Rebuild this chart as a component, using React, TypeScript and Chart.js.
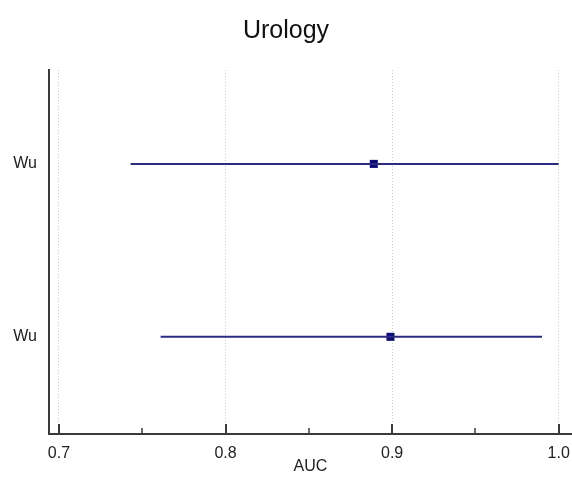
import React, { useEffect, useRef } from "react";
import { Chart, registerables } from "chart.js";

Chart.register(...registerables);

const studies = ["Wu", "Wu"];
const rows = [1, 2];
const auc = [0.889, 0.899];
const ciLow = [0.743, 0.761];
const ciHigh = [1.0, 0.99];
const xTicks = [0.7, 0.8, 0.9, 1.0];
const xMinorTicks = [0.75, 0.85, 0.95];

const axisColor = "#3a3a3a";

const innerTicks = {
  id: "innerTicks",
  afterDraw(chart: any) {
    const ctx = chart.ctx;
    const xs = chart.scales.x;
    const bottom = chart.chartArea.bottom;
    ctx.save();
    ctx.strokeStyle = axisColor;
    ctx.lineWidth = 2;
    ctx.beginPath();
    xTicks.forEach((v) => {
      const px = Math.round(xs.getPixelForValue(v));
      ctx.moveTo(px, bottom);
      ctx.lineTo(px, bottom - 10);
    });
    ctx.stroke();
    ctx.lineWidth = 1.5;
    ctx.beginPath();
    xMinorTicks.forEach((v) => {
      const px = Math.round(xs.getPixelForValue(v));
      ctx.moveTo(px, bottom);
      ctx.lineTo(px, bottom - 6);
    });
    ctx.stroke();
    ctx.restore();
  },
};

export default function App() {
  const ref = useRef<HTMLCanvasElement>(null);
  useEffect(() => {
    document.body.style.margin = "0";
    const datasets: any[] = rows.map((r, i) => ({
      type: "line",
      data: [
        { x: ciLow[i], y: r },
        { x: ciHigh[i], y: r },
      ],
      borderColor: "#2b2b82",
      borderWidth: 2,
      pointRadius: 0,
      showLine: true,
      fill: false,
    }));
    datasets.push({
      type: "scatter",
      data: rows.map((r, i) => ({ x: auc[i], y: r })),
      pointStyle: "rect",
      pointRadius: 5.7,
      backgroundColor: "#0b0b7a",
      borderColor: "#0b0b7a",
      borderWidth: 0,
    });
    const chart = new Chart(ref.current!, {
      type: "scatter",
      data: { datasets },
      plugins: [innerTicks],
      options: {
        animation: false,
        responsive: false,
        layout: { autoPadding: false, padding: { left: 0, right: 0, top: 0, bottom: 0 } },
        plugins: {
          legend: { display: false },
          tooltip: { enabled: false },
          title: {
            display: true,
            text: "Urology",
            color: "#111",
            font: { family: "Liberation Sans, Arial", size: 25, weight: "normal", lineHeight: 1.2 },
            padding: { top: 16, bottom: 24 },
          },
        },
        scales: {
          x: {
            type: "linear",
            min: 0.694,
            max: 1.008,
            afterBuildTicks: (s: any) => {
              s.ticks = xTicks.map((v) => ({ value: v }));
            },
            afterFit: (s: any) => {
              s.height = 61;
              s.paddingRight = 0;
              s.paddingLeft = 0;
            },
            ticks: {
              callback: (v: any) => Number(v).toFixed(1),
              color: "#222",
              font: { family: "Liberation Sans, Arial", size: 16 },
              padding: 10,
              maxRotation: 0,
            },
            grid: {
              color: "#c8c8c8",
              lineWidth: 1,
              drawTicks: false,
            },
            border: { display: true, color: axisColor, width: 2, dash: [1, 2] },
            title: {
              display: true,
              text: "AUC",
              color: "#222",
              font: { family: "Liberation Sans, Arial", size: 16 },
              padding: { top: 4, bottom: 19 },
            },
          },
          y: {
            type: "linear",
            reverse: true,
            min: 0.457,
            max: 2.562,
            afterBuildTicks: (s: any) => {
              s.ticks = rows.map((v) => ({ value: v }));
            },
            afterFit: (s: any) => {
              s.width = 49;
            },
            ticks: {
              callback: (v: any) => studies[rows.indexOf(Number(v))] ?? "",
              color: "#222",
              font: { family: "Liberation Sans, Arial", size: 16 },
              padding: 12,
            },
            grid: { display: false, drawTicks: false },
            border: { display: true, color: axisColor, width: 2 },
          },
        },
      },
    });
    return () => chart.destroy();
  }, []);
  return (
    <div style={{ width: 572, height: 495 }}>
      <canvas ref={ref} width={572} height={495} />
    </div>
  );
}
